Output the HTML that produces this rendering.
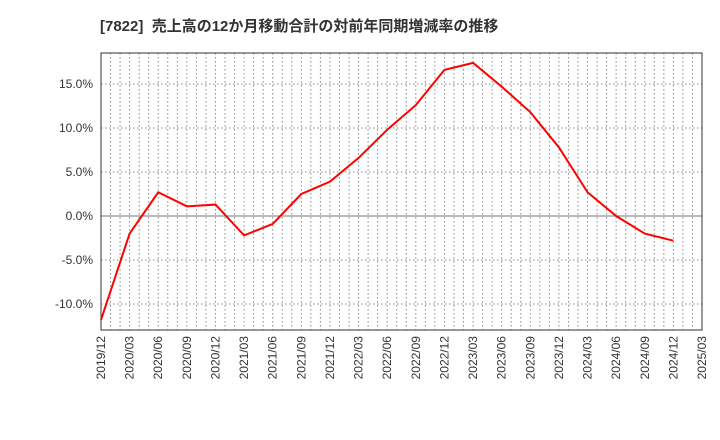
<!DOCTYPE html>
<html><head><meta charset="utf-8"><style>
body{margin:0;background:#fff}
svg{display:block;font-family:"Liberation Sans","Noto Sans CJK JP",sans-serif}
</style></head><body>
<svg id="c" width="720" height="440">
<text x="100" y="31" font-size="15" font-weight="700" fill="#333" xml:space="preserve">[7822]  売上高の12か月移動合計の対前年同期増減率の推移</text>
</svg>
<script>
const categories=["2019/12","2020/03","2020/06","2020/09","2020/12","2021/03","2021/06","2021/09","2021/12","2022/03","2022/06","2022/09","2022/12","2023/03","2023/06","2023/09","2023/12","2024/03","2024/06","2024/09","2024/12","2025/03"];
const values=[-11.8,-2.0,2.7,1.1,1.3,-2.2,-0.9,2.5,3.9,6.6,9.8,12.6,16.6,17.4,14.7,11.8,7.8,2.7,0.0,-2.0,-2.8];
const yTicks=[-10,-5,0,5,10,15];
const yTickLabels=["-10.0%","-5.0%","0.0%","5.0%","10.0%","15.0%"];
const svg=document.getElementById('c');const NS="http://www.w3.org/2000/svg";
const L=101,R=702,T=53,B=330,yMax=18.52,yMin=-12.95;
const x=i=>L+(R-L)*i/(categories.length-1);
const y=v=>T+(yMax-v)/(yMax-yMin)*(B-T);
function mk(t,a,p){const e=document.createElementNS(NS,t);for(const k in a)e.setAttribute(k,a[k]);(p||svg).appendChild(e);return e;}
const g=mk('g',{});


for(let m=1;m<(categories.length-1)*3;m++){const xx=L+(R-L)*m/((categories.length-1)*3);mk('line',{x1:xx,x2:xx,y1:T,y2:B,stroke:'#888','stroke-dasharray':'1.5,2.5','stroke-width':1},g);}
yTicks.forEach((t,i)=>{const yy=y(t);
 mk('line',{x1:L,x2:R,y1:yy,y2:yy,stroke:t===0?'#777':'#888','stroke-dasharray':t===0?'none':'1.5,2.5','stroke-width':1},g);
 const tx=mk('text',{x:L-8,y:yy+4,'text-anchor':'end','font-size':12,fill:'#333'});tx.textContent=yTickLabels[i];
 
 
});
const fr=mk('rect',{x:L,y:T,width:R-L,height:B-T,fill:'none',stroke:'#333','stroke-width':1});


categories.forEach((c,i)=>{const xx=x(i);const tx=mk('text',{x:0,y:0,'font-size':12,fill:'#333','text-anchor':'end',transform:`translate(${xx+4},${B+6}) rotate(-90)`});tx.textContent=c;
 
 
});
const pl=mk('polyline',{points:values.map((v,i)=>x(i)+','+y(v)).join(' '),fill:'none',stroke:'#f00','stroke-width':2});


</script>
</body></html>
